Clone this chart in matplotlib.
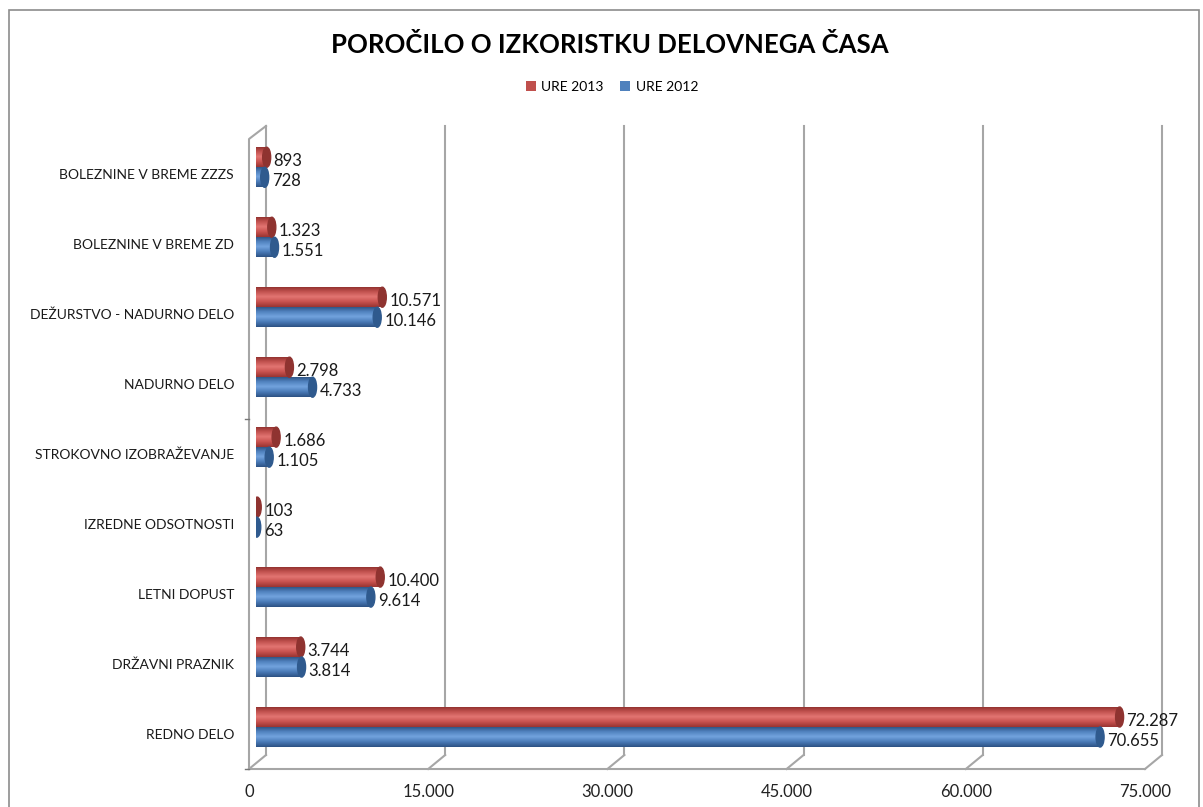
"""Poročilo o izkoristku delovnega časa - 3D valjasti stolpci (približek)."""
import numpy as np
import matplotlib.pyplot as plt
from matplotlib.colors import LinearSegmentedColormap
from matplotlib.patches import Ellipse, Rectangle
from matplotlib.transforms import ScaledTranslation, blended_transform_factory

plt.rcParams['font.family'] = ['Lato', 'DejaVu Sans']

# Podatki (od spodaj navzgor)
kategorije = ['REDNO DELO', 'DRŽAVNI PRAZNIK', 'LETNI DOPUST',
              'IZREDNE ODSOTNOSTI', 'STROKOVNO IZOBRAŽEVANJE', 'NADURNO DELO',
              'DEŽURSTVO - NADURNO DELO', 'BOLEZNINE V BREME ZD',
              'BOLEZNINE V BREME ZZZS']
ure_2013 = [72287, 3744, 10400, 103, 1686, 2798, 10571, 1323, 893]
ure_2012 = [70655, 3814, 9614, 63, 1105, 4733, 10146, 1551, 728]
x_ticks = [0, 15000, 30000, 45000, 60000, 75000]


def fmt(v):
    return f'{v:,}'.replace(',', '.')


W, H = 1203, 807
fig = plt.figure(figsize=(W / 100, H / 100), dpi=100)
ax = fig.add_axes([256 / W, (H - 769) / H, 896 / W, 643 / H])
ax.set_xlim(0, 75000)
ax.set_ylim(-0.6, 8.59)
ax.set_axis_off()

px = 75000 / 896  # enote na piksel
y_back = 14 / 643
grid_c = '#a6a6a6'
bt = blended_transform_factory(ax.transData, ax.transAxes)


def shift(dx, dy):
    return ScaledTranslation(dx / 100, dy / 100, fig.dpi_scale_trans)


# Mreža (zadnja stena in tla)
for t in x_ticks:
    ax.plot([t + 10 * px] * 2, [y_back, 1.0], color=grid_c, lw=1.5,
            transform=bt, clip_on=False, zorder=0)
    ax.plot([t - 7 * px, t + 10 * px], [0, y_back], color=grid_c, lw=1.5,
            transform=bt, clip_on=False, zorder=0)
    ax.text(t - 7 * px, -0.024, fmt(t), transform=bt, ha='center',
            va='top', fontsize=12, color='#222222')
ax.plot([-7 * px, 75000 - 7 * px], [0, 0], color=grid_c, lw=1.5,
        transform=bt, clip_on=False, zorder=0)
# leva stena
top_front = (769 - 139) / 643
ax.plot([-7 * px, -7 * px, 10 * px], [0, top_front, 1.0], color=grid_c,
        lw=1.5, transform=bt, clip_on=False, zorder=0)
for yy in [0, (769 - 419) / 643]:
    ax.plot([-11 * px, -7 * px], [yy, yy], color='#777777', lw=1,
            transform=bt, clip_on=False, zorder=0)

# Valji
bh = 0.286
red_cmap = LinearSegmentedColormap.from_list(
    'r', ['#8a2d2a', '#c0504d', '#e27572', '#c9524f', '#9a3431'])
blue_cmap = LinearSegmentedColormap.from_list(
    'b', ['#2a4c7a', '#4f81bd', '#72a3de', '#4a7bb8', '#2d5284'])
grad = np.linspace(0, 1, 64).reshape(-1, 1)
y = np.arange(len(kategorije))

bars_r = ax.barh(y + bh / 2, ure_2013, height=bh, color='#c0504d',
                 label='URE 2013', zorder=2)
bars_b = ax.barh(y - bh / 2, ure_2012, height=bh, color='#4f81bd',
                 label='URE 2012', zorder=2)

for bars, vals, cmap, cap_c, off in [
        (bars_r, ure_2013, red_cmap, '#8f3330', bh / 2),
        (bars_b, ure_2012, blue_cmap, '#2f5a8e', -bh / 2)]:
    for i, (b, v) in enumerate(zip(bars, vals)):
        yc = i + off
        im = ax.imshow(grad, extent=[0, v, yc - bh / 2, yc + bh / 2],
                       aspect='auto', cmap=cmap, origin='upper', zorder=3)
        im.set_clip_path(b)
        ax.add_patch(Ellipse((v, yc), 8 * px, bh, color=cap_c, zorder=4))
        ax.text(v, yc, fmt(v), ha='left', va='center', fontsize=12,
                color='#1a1a1a', transform=ax.transData + shift(7, -4),
                zorder=5)

ax.set_xlim(0, 75000)
ax.set_ylim(-0.6, 8.59)

for i, k in enumerate(kategorije):
    ax.text(0, i, k, ha='right', va='center', fontsize=10,
            color='#1a1a1a', transform=ax.transData + shift(-22, -8))

# Naslov in legenda
fig.text(610 / W, 1 - 45 / H, 'POROČILO O IZKORISTKU DELOVNEGA ČASA',
         ha='center', va='center', fontsize=18.5, fontweight='bold')
fig.legend(handles=[bars_r, bars_b], loc='center',
           bbox_to_anchor=(612 / W, 1 - 87 / H), ncol=2, frameon=False,
           fontsize=10, handlelength=0.7, handleheight=0.7,
           handletextpad=0.4, columnspacing=1.2)

# Okvir grafikona
fig.patches.append(Rectangle((9 / W, -0.05), (1199 - 9) / W, 1.05 - 10 / H,
                             transform=fig.transFigure, fill=False,
                             edgecolor='#8c8c8c', lw=1.2))

fig.savefig('out.png', dpi=100)
